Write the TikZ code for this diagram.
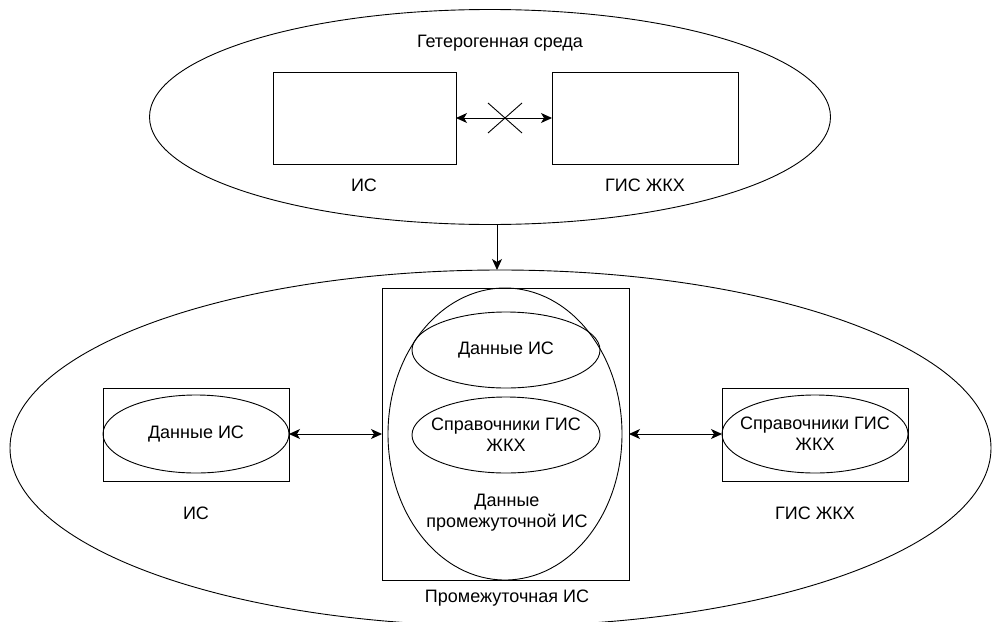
\documentclass[tikz,border=0pt]{standalone}
\usepackage{fontspec}
\setmainfont{Liberation Sans}
\usetikzlibrary{shapes.geometric,arrows.meta}
\begin{document}
\begin{tikzpicture}[x=1pt,y=-1pt,
  font=\fontsize{18}{21}\selectfont,
  every node/.style={inner sep=0pt, outer sep=0pt},
  ell/.style={draw, ellipse, line width=0.9pt},
  box/.style={draw, rectangle, line width=0.9pt},
  lbl/.style={align=center, text=black},
  tip/.tip={Stealth[length=11pt,width=10pt,inset=3pt]},
  darr/.style={line width=1pt, tip-tip},
  sarr/.style={line width=1pt, -tip}]
\useasboundingbox (0,0) rectangle (992,621);

% upper part
\node[ell, minimum width=681pt, minimum height=215pt] (topEll) at (490,117) {};
\node[lbl] (topLbl) at (500,43) {Гетерогенная среда};
\node[box, minimum width=183pt, minimum height=92pt] (isTop) at (364.5,118) {};
\node[box, minimum width=186pt, minimum height=92pt] (gisTop) at (645,118) {};
\node[lbl] (isTopLbl) at (364,185) {ИС};
\node[lbl] (gisTopLbl) at (645,185) {ГИС ЖКХ};
\draw[darr] (isTop.east) -- (gisTop.west);
\coordinate (cx) at (505,118);
\draw[line width=0.9pt] ([shift={(-17,-15)}]cx) -- ([shift={(17,15)}]cx);
\draw[line width=0.9pt] ([shift={(17,-15)}]cx) -- ([shift={(-17,15)}]cx);

% lower part
\node[ell, minimum width=981pt, minimum height=356pt] (botEll) at (500.5,448) {};
\coordinate (dn) at ([xshift=7pt]topEll.south);
\draw[sarr] (dn) -- (dn |- botEll.north);

% middle
\node[box, minimum width=247pt, minimum height=292pt] (midBox) at (505.5,434) {};
\node[ell, minimum width=234pt, minimum height=292pt] (midEll) at (505,434) {};
\node[ell, minimum width=188pt, minimum height=76pt] (midData) at (506,350) {};
\node[lbl] (midDataT) at (midData.center) {Данные ИС};
\node[ell, minimum width=188pt, minimum height=76pt] (midRef) at (506,435) {};
\node[lbl] (midRefT) at (midRef.center) {Справочники ГИС\\ЖКХ};
\node[lbl] (midText) at (507,512.5) {Данные\\промежуточной ИС};
\node[lbl] (midLbl) at (507,598) {Промежуточная ИС};

% left
\node[box, minimum width=186pt, minimum height=93pt] (isBox) at (196,434.5) {};
\node[ell, minimum width=186pt, minimum height=78pt] (isData) at (196,434) {};
\node[lbl] (isDataT) at (isData.center) {Данные ИС};
\node[lbl] (isLbl) at (196,513) {ИС};

% right
\node[box, minimum width=186pt, minimum height=93pt] (gisBox) at (815,434.5) {};
\node[ell, minimum width=186pt, minimum height=78pt] (gisRef) at (815,434) {};
\node[lbl] (gisRefT) at (gisRef.center) {Справочники ГИС\\ЖКХ};
\node[lbl] (gisLbl) at (815,513) {ГИС ЖКХ};

\draw[darr] (isBox.east |- isData.east) -- (midBox.west |- isData.east);
\draw[darr] (midBox.east |- gisRef.west) -- (gisBox.west |- gisRef.west);
\end{tikzpicture}
\end{document}
